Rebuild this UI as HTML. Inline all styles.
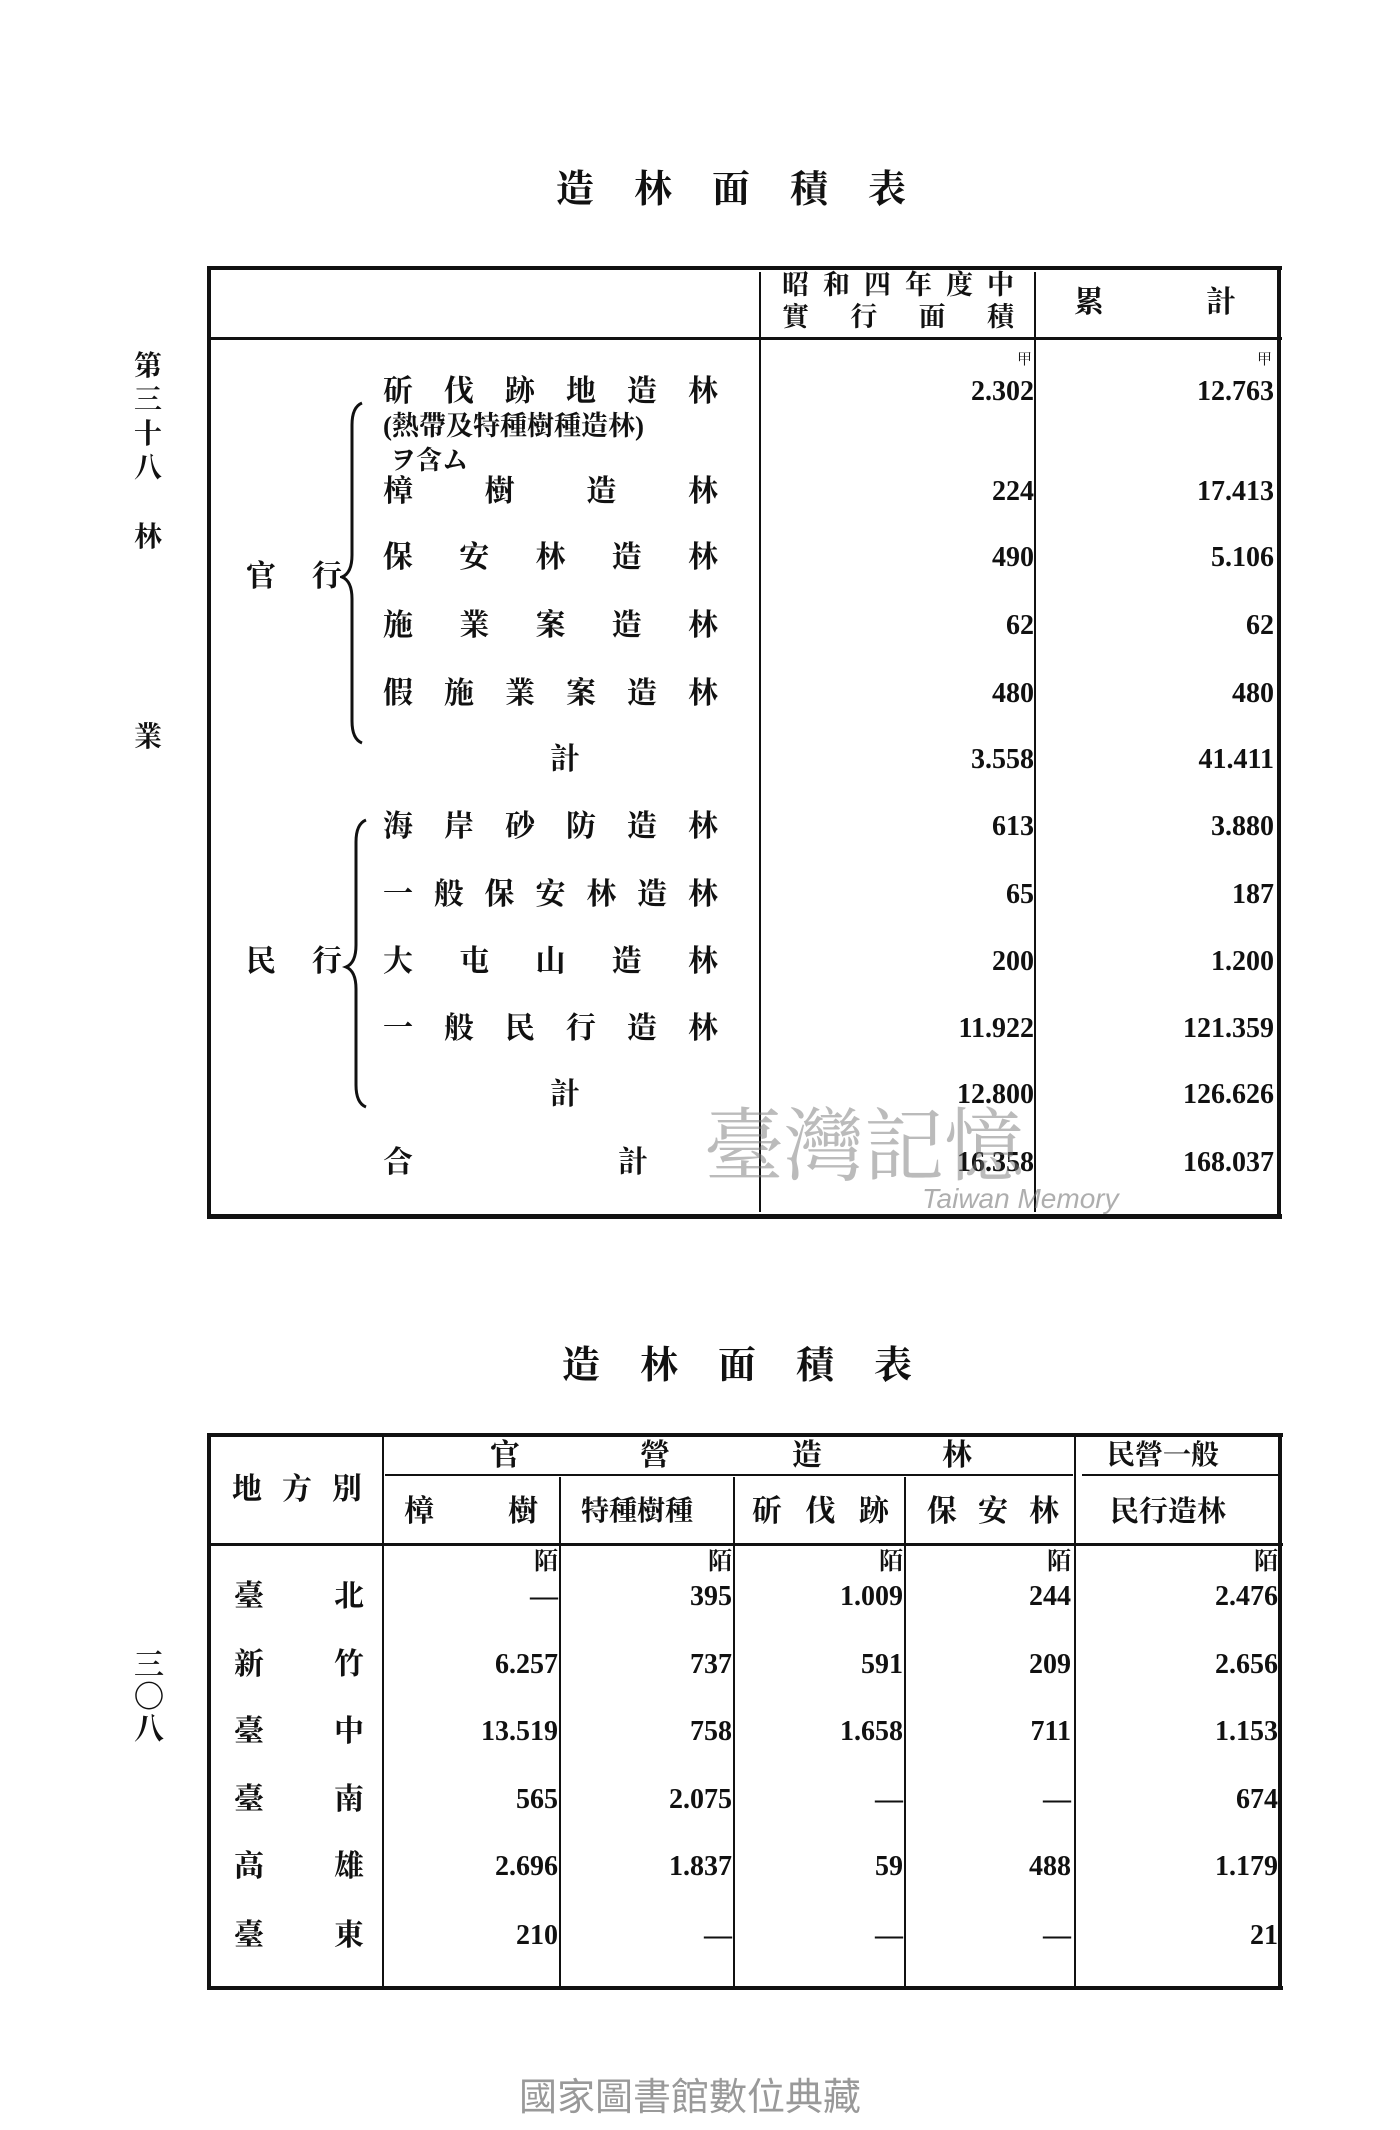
<!DOCTYPE html>
<html><head><meta charset="utf-8"><style>
body{margin:0;background:#fff}
#p{position:relative;width:1400px;height:2130px;background:#fff;overflow:hidden;font-family:"Liberation Serif","Noto Serif CJK SC","Noto Sans CJK TC",serif;color:#111}
.a{position:absolute;white-space:nowrap;line-height:36px}
.c{font-size:30px;font-weight:bold}
.n{font-size:28px;font-family:"Liberation Serif",serif;text-align:right;font-weight:bold}
.l{position:absolute;background:#111}
.sp{display:flex;justify-content:space-between}
.u{font-size:15px;line-height:16px}
</style></head><body><div id="p">

<div class="a c" style="left:556px;top:172px;font-size:38px;letter-spacing:40px">造林面積表</div>
<div class="a c" style="left:134px;top:350px;width:30px;line-height:34px;font-size:28px;white-space:normal">第三十八</div>
<div class="a c" style="left:134px;top:520px;font-size:28px">林</div>
<div class="a c" style="left:134px;top:720px;font-size:28px">業</div>
<div class="a c" style="left:134px;top:1650px;width:30px;line-height:32px;font-size:30px;white-space:normal">三〇八</div>

<div class="l" style="left:207px;top:266px;width:1075px;height:4px"></div>
<div class="l" style="left:207px;top:266px;width:4px;height:952px"></div>
<div class="l" style="left:1277px;top:266px;width:4px;height:952px"></div>
<div class="l" style="left:207px;top:1214px;width:1075px;height:5px"></div>
<div class="l" style="left:207px;top:337px;width:1075px;height:3px"></div>
<div class="l" style="left:759px;top:272px;width:2px;height:940px"></div>
<div class="l" style="left:1034px;top:272px;width:2px;height:940px"></div>

<div class="a c" style="left:782px;top:269px;width:232px;font-size:27px;line-height:32px"><div class="sp"><span>昭</span><span>和</span><span>四</span><span>年</span><span>度</span><span>中</span></div><div class="sp"><span>實</span><span>行</span><span>面</span><span>積</span></div></div>
<div class="a c" style="left:1074px;top:285px">累</div>
<div class="a c" style="left:1206px;top:285px">計</div>

<div class="a c" style="left:246px;top:559px;width:96px"><div class="sp"><span>官</span><span>行</span></div></div>
<div class="a c" style="left:246px;top:944px;width:96px"><div class="sp"><span>民</span><span>行</span></div></div>
<svg class="a" style="left:340px;top:395px" width="40" height="720">
<path d="M22 8 Q12 12 12 30 L12 160 Q12 178 2 182 Q12 186 12 204 L12 326 Q12 344 22 348" fill="none" stroke="#111" stroke-width="3"/>
<path d="M26 425 Q16 429 16 447 L16 550 Q16 568 6 572 Q16 576 16 594 L16 690 Q16 708 26 712" fill="none" stroke="#111" stroke-width="3"/>
</svg>

<div class="a c" style="left:383px;top:374px;width:335px"><div class="sp"><span>斫</span><span>伐</span><span>跡</span><span>地</span><span>造</span><span>林</span></div></div>
<div class="a c" style="left:383px;top:408px;font-size:27px">(熱帶及特種樹種造林)</div>
<div class="a c" style="left:390px;top:443px;font-size:26px">ヲ含ム</div>
<div class="a c" style="left:383px;top:474px;width:335px"><div class="sp"><span>樟</span><span>樹</span><span>造</span><span>林</span></div></div>
<div class="a c" style="left:383px;top:540px;width:335px"><div class="sp"><span>保</span><span>安</span><span>林</span><span>造</span><span>林</span></div></div>
<div class="a c" style="left:383px;top:608px;width:335px"><div class="sp"><span>施</span><span>業</span><span>案</span><span>造</span><span>林</span></div></div>
<div class="a c" style="left:383px;top:676px;width:335px"><div class="sp"><span>假</span><span>施</span><span>業</span><span>案</span><span>造</span><span>林</span></div></div>
<div class="a c" style="left:550px;top:742px">計</div>
<div class="a c" style="left:383px;top:809px;width:335px"><div class="sp"><span>海</span><span>岸</span><span>砂</span><span>防</span><span>造</span><span>林</span></div></div>
<div class="a c" style="left:383px;top:877px;width:335px"><div class="sp"><span>一</span><span>般</span><span>保</span><span>安</span><span>林</span><span>造</span><span>林</span></div></div>
<div class="a c" style="left:383px;top:944px;width:335px"><div class="sp"><span>大</span><span>屯</span><span>山</span><span>造</span><span>林</span></div></div>
<div class="a c" style="left:383px;top:1011px;width:335px"><div class="sp"><span>一</span><span>般</span><span>民</span><span>行</span><span>造</span><span>林</span></div></div>
<div class="a c" style="left:550px;top:1077px">計</div>
<div class="a c" style="left:383px;top:1145px">合</div>
<div class="a c" style="left:618px;top:1145px">計</div>

<div class="a u" style="right:368px;top:352px">甲</div>
<div class="a u" style="right:128px;top:352px">甲</div>
<div class="a n" style="right:366px;top:374px">2.302</div><div class="a n" style="right:126px;top:374px">12.763</div>
<div class="a n" style="right:366px;top:474px">224</div><div class="a n" style="right:126px;top:474px">17.413</div>
<div class="a n" style="right:366px;top:540px">490</div><div class="a n" style="right:126px;top:540px">5.106</div>
<div class="a n" style="right:366px;top:608px">62</div><div class="a n" style="right:126px;top:608px">62</div>
<div class="a n" style="right:366px;top:676px">480</div><div class="a n" style="right:126px;top:676px">480</div>
<div class="a n" style="right:366px;top:742px">3.558</div><div class="a n" style="right:126px;top:742px">41.411</div>
<div class="a n" style="right:366px;top:809px">613</div><div class="a n" style="right:126px;top:809px">3.880</div>
<div class="a n" style="right:366px;top:877px">65</div><div class="a n" style="right:126px;top:877px">187</div>
<div class="a n" style="right:366px;top:944px">200</div><div class="a n" style="right:126px;top:944px">1.200</div>
<div class="a n" style="right:366px;top:1011px">11.922</div><div class="a n" style="right:126px;top:1011px">121.359</div>
<div class="a n" style="right:366px;top:1077px">12.800</div><div class="a n" style="right:126px;top:1077px">126.626</div>
<div class="a n" style="right:366px;top:1145px">16.358</div><div class="a n" style="right:126px;top:1145px">168.037</div>

<div class="a" style="left:704px;top:1090px;font-size:80px;line-height:100px;color:rgba(120,120,120,0.5);font-family:'Noto Serif CJK SC',serif">臺灣記憶</div>
<div class="a" style="left:922px;top:1184px;font-size:28px;line-height:30px;color:rgba(120,120,120,0.6);font-family:'Liberation Sans',sans-serif;font-style:italic">Taiwan Memory</div>

<div class="a c" style="left:562px;top:1348px;font-size:38px;letter-spacing:40px">造林面積表</div>

<div class="l" style="left:207px;top:1433px;width:1076px;height:4px"></div>
<div class="l" style="left:207px;top:1433px;width:4px;height:557px"></div>
<div class="l" style="left:1278px;top:1433px;width:4px;height:557px"></div>
<div class="l" style="left:207px;top:1986px;width:1076px;height:4px"></div>
<div class="l" style="left:207px;top:1543px;width:1076px;height:3px"></div>
<div class="l" style="left:385px;top:1474px;width:688px;height:2px"></div>
<div class="l" style="left:1082px;top:1474px;width:196px;height:2px"></div>
<div class="l" style="left:382px;top:1437px;width:2px;height:550px"></div>
<div class="l" style="left:559px;top:1477px;width:2px;height:510px"></div>
<div class="l" style="left:733px;top:1477px;width:2px;height:510px"></div>
<div class="l" style="left:904px;top:1477px;width:2px;height:510px"></div>
<div class="l" style="left:1074px;top:1437px;width:2px;height:550px"></div>

<div class="a c" style="left:232px;top:1472px;width:130px"><div class="sp"><span>地</span><span>方</span><span>別</span></div></div>
<div class="a c" style="left:490px;top:1438px">官</div>
<div class="a c" style="left:640px;top:1438px">營</div>
<div class="a c" style="left:792px;top:1438px">造</div>
<div class="a c" style="left:942px;top:1438px">林</div>
<div class="a c" style="left:1107px;top:1438px;font-size:28px">民營一般</div>
<div class="a c" style="left:404px;top:1494px">樟</div>
<div class="a c" style="left:508px;top:1494px">樹</div>
<div class="a c" style="left:581px;top:1494px;font-size:28px">特種樹種</div>
<div class="a c" style="left:752px;top:1494px;width:137px"><div class="sp"><span>斫</span><span>伐</span><span>跡</span></div></div>
<div class="a c" style="left:927px;top:1494px;width:132px"><div class="sp"><span>保</span><span>安</span><span>林</span></div></div>
<div class="a c" style="left:1110px;top:1494px;font-size:29px">民行造林</div>

<div class="a c" style="left:234px;top:1579px;width:130px"><div class="sp"><span>臺</span><span>北</span></div></div>
<div class="a c" style="left:234px;top:1647px;width:130px"><div class="sp"><span>新</span><span>竹</span></div></div>
<div class="a c" style="left:234px;top:1714px;width:130px"><div class="sp"><span>臺</span><span>中</span></div></div>
<div class="a c" style="left:234px;top:1782px;width:130px"><div class="sp"><span>臺</span><span>南</span></div></div>
<div class="a c" style="left:234px;top:1849px;width:130px"><div class="sp"><span>高</span><span>雄</span></div></div>
<div class="a c" style="left:234px;top:1918px;width:130px"><div class="sp"><span>臺</span><span>東</span></div></div>

<div class="a c" style="right:842px;top:1550px;font-size:24px;line-height:24px">陌</div>
<div class="a c" style="right:668px;top:1550px;font-size:24px;line-height:24px">陌</div>
<div class="a c" style="right:497px;top:1550px;font-size:24px;line-height:24px">陌</div>
<div class="a c" style="right:329px;top:1550px;font-size:24px;line-height:24px">陌</div>
<div class="a c" style="right:122px;top:1550px;font-size:24px;line-height:24px">陌</div>

<div class="a n" style="right:842px;top:1579px">—</div><div class="a n" style="right:668px;top:1579px">395</div><div class="a n" style="right:497px;top:1579px">1.009</div><div class="a n" style="right:329px;top:1579px">244</div><div class="a n" style="right:122px;top:1579px">2.476</div>
<div class="a n" style="right:842px;top:1647px">6.257</div><div class="a n" style="right:668px;top:1647px">737</div><div class="a n" style="right:497px;top:1647px">591</div><div class="a n" style="right:329px;top:1647px">209</div><div class="a n" style="right:122px;top:1647px">2.656</div>
<div class="a n" style="right:842px;top:1714px">13.519</div><div class="a n" style="right:668px;top:1714px">758</div><div class="a n" style="right:497px;top:1714px">1.658</div><div class="a n" style="right:329px;top:1714px">711</div><div class="a n" style="right:122px;top:1714px">1.153</div>
<div class="a n" style="right:842px;top:1782px">565</div><div class="a n" style="right:668px;top:1782px">2.075</div><div class="a n" style="right:497px;top:1782px">—</div><div class="a n" style="right:329px;top:1782px">—</div><div class="a n" style="right:122px;top:1782px">674</div>
<div class="a n" style="right:842px;top:1849px">2.696</div><div class="a n" style="right:668px;top:1849px">1.837</div><div class="a n" style="right:497px;top:1849px">59</div><div class="a n" style="right:329px;top:1849px">488</div><div class="a n" style="right:122px;top:1849px">1.179</div>
<div class="a n" style="right:842px;top:1918px">210</div><div class="a n" style="right:668px;top:1918px">—</div><div class="a n" style="right:497px;top:1918px">—</div><div class="a n" style="right:329px;top:1918px">—</div><div class="a n" style="right:122px;top:1918px">21</div>

<div class="a" style="left:519px;top:2076px;font-size:38px;line-height:44px;color:#999;font-family:'Liberation Sans','Noto Sans CJK TC',sans-serif">國家圖書館數位典藏</div>
</div></body></html>
